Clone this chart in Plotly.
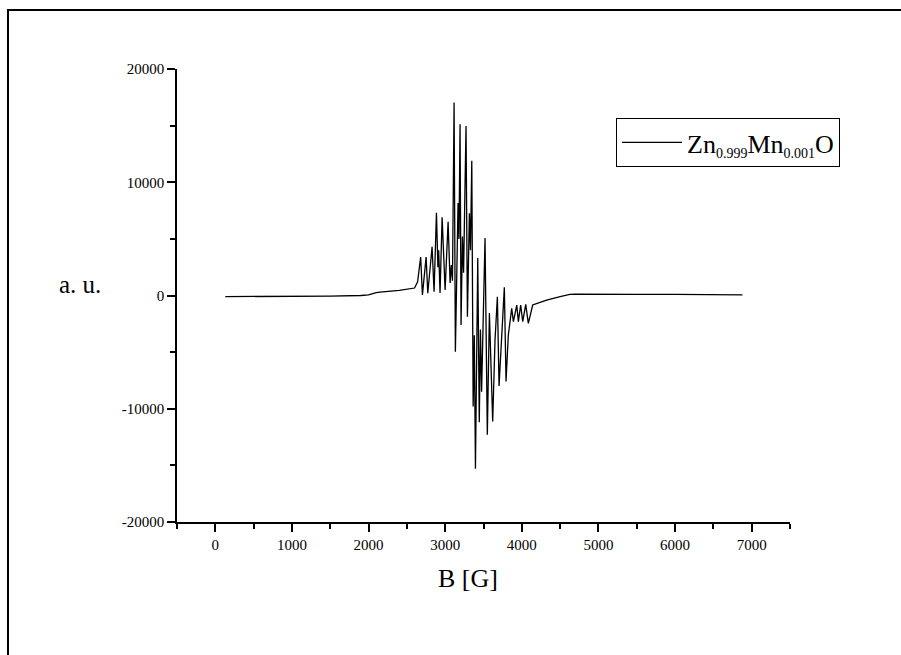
import plotly.graph_objects as go

# Field B [G] and signal (a.u.)
B = [130, 500, 1000, 1500, 1900, 2000, 2100, 2150, 2400, 2600, 2640,
     2680, 2703, 2751, 2773, 2829, 2855, 2886, 2905, 2915, 2933, 2960, 2999,
     3038, 3064, 3080, 3095, 3116, 3133, 3155, 3168, 3180, 3194, 3207, 3225,
     3240, 3272, 3290, 3316, 3330, 3347, 3365, 3380, 3395, 3425, 3445, 3460,
     3475, 3500, 3520, 3550, 3577, 3620, 3650, 3681, 3703, 3772, 3794, 3824,
     3868, 3890, 3934, 3955, 3985, 4012, 4051, 4085, 4142, 4200, 4324, 4500,
     4628, 4700, 5000, 5500, 6000, 6500, 6880]
signal = [-100, -100, -100, -50, 0, 50, 250, 300, 450, 660, 1200,
          3400, 50, 3400, 200, 4300, 330, 7300, 2500, 4000, 220, 6900, 480,
          6500, 1100, 2700, 1300, 17050, -4960, 4000, 8160, 5000, 15130, -2600, 5200,
          2000, 14960, -1870, 7270, 4000, 11900, -9800, -3500, -15300, 3300, -11200, -3000,
          -8500, -2000, 5070, -12300, -1550, -11130, -4000, -110, -7990, 720, -7600, -3490,
          -1130, -2310, -840, -2310, -840, -2310, -780, -2460, -840, -700, -400, -100,
          100, 120, 100, 100, 100, 80, 60]

x_ticks = [0, 1000, 2000, 3000, 4000, 5000, 6000, 7000]
y_ticks = [-20000, -10000, 0, 10000, 20000]

FONT = "Liberation Serif"
SUB = '<sub><span style="font-size:14px">{}</span></sub>'
legend_name = "Zn" + SUB.format("0.999") + "Mn" + SUB.format("0.001") + "O"

fig = go.Figure()
fig.add_trace(go.Scatter(
    x=B, y=signal, mode="lines",
    line=dict(color="black", width=1.3),
    name=legend_name,
))

fig.update_layout(
    width=901, height=655,
    margin=dict(l=177, r=111, t=69, b=133),
    paper_bgcolor="white", plot_bgcolor="white",
    font=dict(family=FONT, color="black", size=15),
    showlegend=True,
    legend=dict(
        x=(616 - 177) / 613, y=(522 - 118) / 453, xanchor="left", yanchor="top",
        bordercolor="black", borderwidth=1, bgcolor="white",
        font=dict(family=FONT, size=26, color="black"),
        itemwidth=60,
    ),
    xaxis=dict(
        range=[-500, 7500], tickvals=x_ticks, ticktext=[str(v) for v in x_ticks],
        showline=True, linecolor="black", linewidth=1.5,
        ticks="outside", ticklen=8, tickwidth=1.5, tickcolor="black",
        minor=dict(dtick=500, tick0=0, ticks="outside", ticklen=5, tickwidth=1.5, tickcolor="black"),
        showgrid=False, zeroline=False, mirror=False,
        tickfont=dict(family=FONT, size=15, color="black"),
    ),
    yaxis=dict(
        range=[-20000, 20000], tickvals=y_ticks, ticktext=[str(v) for v in y_ticks],
        showline=True, linecolor="black", linewidth=1.5,
        ticks="outside", ticklen=8, tickwidth=1.5, tickcolor="black",
        minor=dict(dtick=5000, tick0=0, ticks="outside", ticklen=5, tickwidth=1.5, tickcolor="black"),
        showgrid=False, zeroline=False, mirror=False,
        tickfont=dict(family=FONT, size=15, color="black"),
    ),
    shapes=[dict(
        type="rect", xref="paper", yref="paper",
        x0=-0.2757, x1=1.35, y0=-0.45, y1=1.130,
        line=dict(color="black", width=2), fillcolor="rgba(0,0,0,0)", layer="below",
    )],
    annotations=[
        dict(text="B [G]", xref="paper", yref="paper", x=(468 - 177) / 613, y=(522 - 578) / 453,
             xanchor="center", yanchor="middle", showarrow=False,
             font=dict(family=FONT, size=26, color="black")),
        dict(text="a. u.", xref="paper", yref="paper", x=(80 - 177) / 613, y=(522 - 284) / 453,
             xanchor="center", yanchor="middle", showarrow=False,
             font=dict(family=FONT, size=25, color="black")),
    ],
)

fig.write_html("out.html")
